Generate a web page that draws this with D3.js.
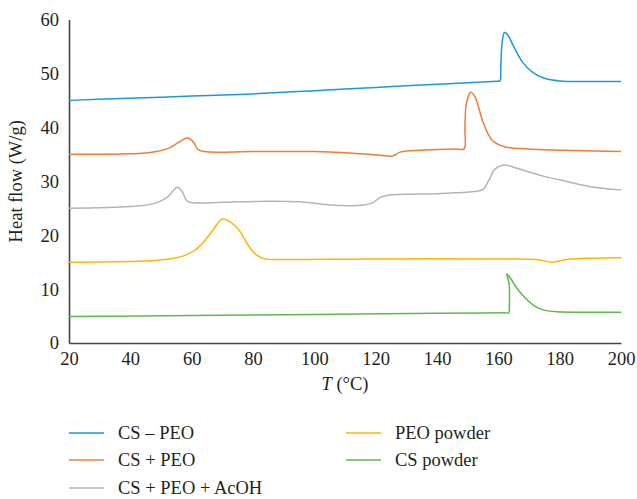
<!DOCTYPE html>
<html>
<head>
<meta charset="utf-8">
<script src="https://cdn.jsdelivr.net/npm/d3@7"></script>
<style>
  body { margin: 0; background: #fff; }
  svg text { font-family: "Liberation Serif", "DejaVu Serif", serif; fill: #231f20; }
</style>
</head>
<body>
<div id="chart"></div>
<script>
// temperature (°C), heat flow (W/g)
const csPeo = [[20,45],[40,45.4],[60,45.8],[80,46.2],[100,46.8],[120,47.4],[140,48],[155,48.4],[159.5,48.55],[160.5,48.6],
  [160.8,51],[161.2,55.5],[162,57.6],[163,57.2],[165,55],[168,52],[171,50.3],[175,49.1],[180,48.6],[190,48.5],[200,48.5]];
const csPlusPeo = [[20,35],[40,35.1],[46,35.3],[52,36],[56,37.3],[58.6,38],[60.5,37.3],[62,35.9],[64,35.5],[80,35.5],
  [100,35.5],[110,35.3],[120,34.9],[125.5,34.7],[128,35.4],[132,35.7],[140,35.9],[146,36],[148.8,36],[149.1,40],[149.6,44.5],
  [151,46.5],[152.5,45.5],[155,41],[158,37.6],[162,36.4],[170,36],[185,35.7],[200,35.5]];
const csPeoAcoh = [[20,25],[40,25.3],[48,25.9],[52,27],[55.3,28.9],[57,28],[58.5,26.3],[61,26],[70,26.1],[85,26.3],
  [95,26.2],[102,25.8],[108.7,25.5],[116,25.6],[119,26],[121.5,27],[124,27.4],[140,27.7],[152,28.1],[155,28.5],
  [157,30.3],[159,32.3],[162,33],[165,32.6],[170,31.7],[175,30.9],[182,30],[190,29],[200,28.4]];
const peoPowder = [[20,15],[40,15.1],[48,15.3],[55,15.8],[58,16.3],[61,17.2],[64,18.8],[67,21],[70,23],[73,22.3],[76,20.5],
  [78,18.5],[81,16.4],[84,15.6],[90,15.5],[120,15.6],[160,15.6],[172,15.5],[177.8,15],[182,15.5],[188,15.7],[200,15.8]];
const csPowder = [[20,4.9],[60,5.1],[100,5.3],[140,5.5],[155,5.55],[162,5.6],[163.4,5.6],[163.6,7],[163.5,11],[162.8,12.8],[164,12],
  [166,10.2],[169,8.2],[172,6.8],[175,6.1],[179,5.8],[190,5.7],[200,5.7]];

const seriesNames = ["CS – PEO", "CS + PEO", "CS + PEO + AcOH", "PEO powder", "CS powder"];
const seriesData = [csPeo, csPlusPeo, csPeoAcoh, peoPowder, csPowder];
const colors = ["#1a9ad6", "#f07c35", "#b4b4b4", "#ffb500", "#5bb947"];

const xTicks = [20, 40, 60, 80, 100, 120, 140, 160, 180, 200];
const yTicks = [0, 10, 20, 30, 40, 50, 60];

const width = 637, height = 499;
const margin = {left: 69, right: 16, top: 19.5, bottom: 156};
const fs = "18.5px";

const svg = d3.select("#chart").append("svg")
  .attr("width", width)
  .attr("height", height);

const x = d3.scaleLinear().domain([20, 200]).range([margin.left, width - margin.right]);
const y = d3.scaleLinear().domain([0, 60]).range([height - margin.bottom, margin.top]);

// axes
svg.append("g")
  .attr("transform", "translate(0," + y(0) + ")")
  .call(d3.axisBottom(x).tickValues(xTicks).tickSize(0).tickPadding(9))
  .call(g => g.select(".domain").attr("stroke", "#444").attr("stroke-width", 1.6))
  .selectAll("text").style("font-size", fs);

svg.append("g")
  .attr("transform", "translate(" + x(20) + ",0)")
  .call(d3.axisLeft(y).tickValues(yTicks).tickSize(0).tickPadding(10))
  .call(g => g.select(".domain").attr("stroke", "#444").attr("stroke-width", 1.6))
  .selectAll("text").style("font-size", fs);

// curves
const line = d3.line()
  .x(d => x(d[0]))
  .y(d => y(d[1]))
  .curve(d3.curveCatmullRom.alpha(0.5));

svg.append("g").selectAll("path")
  .data(seriesData)
  .enter()
  .append("path")
  .attr("d", line)
  .attr("fill", "none")
  .attr("stroke", (d, i) => colors[i])
  .attr("stroke-width", 1.5);

// axis titles
svg.append("text")
  .attr("transform", "translate(22," + y(30) + ") rotate(-90)")
  .attr("text-anchor", "middle")
  .style("font-size", fs)
  .text("Heat flow (W/g)");

const xt = svg.append("text")
  .attr("x", (x(20) + x(200)) / 2)
  .attr("y", 390)
  .attr("text-anchor", "middle")
  .style("font-size", fs);
xt.append("tspan").style("font-style", "italic").text("T");
xt.append("tspan").text(" (°C)");

// legend
const legendPos = [[69, 433], [69, 460], [69, 488], [346, 433], [346, 460]];
const legend = svg.append("g").selectAll("g")
  .data(seriesNames)
  .enter()
  .append("g")
  .attr("transform", (d, i) => "translate(" + legendPos[i][0] + "," + legendPos[i][1] + ")");

legend.append("line")
  .attr("x1", 0).attr("x2", 35)
  .attr("stroke", (d, i) => colors[i])
  .attr("stroke-width", 1.5);

legend.append("text")
  .attr("x", 49)
  .attr("dy", "0.35em")
  .style("font-size", fs)
  .text(d => d);
</script>
</body>
</html>
